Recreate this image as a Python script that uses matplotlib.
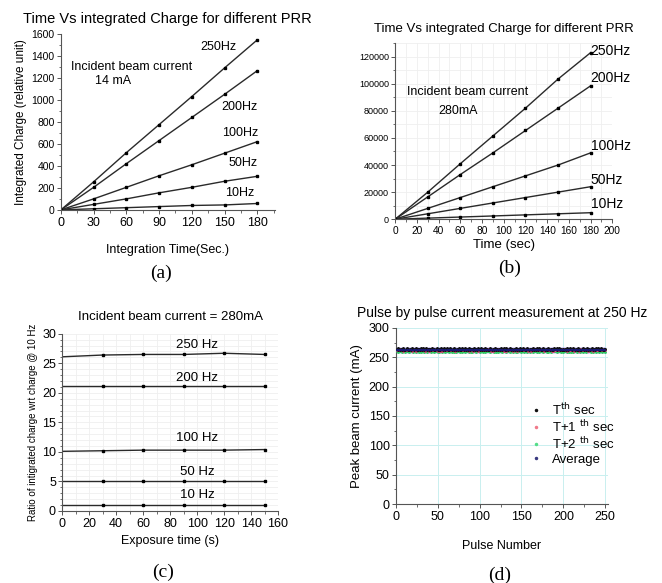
import matplotlib
matplotlib.use("Agg")
import matplotlib.pyplot as plt
from matplotlib.ticker import MultipleLocator, FuncFormatter

plt.rcParams['font.family'] = ['Liberation Sans', 'DejaVu Sans']

# ---------------- data ----------------
# (a) incident beam current 14 mA
t_a = [0, 30, 60, 90, 120, 150, 180]
a_250 = [0, 255, 520, 775, 1030, 1290, 1545]
a_200 = [0, 205, 420, 630, 840, 1050, 1265]
a_100 = [0, 100, 205, 310, 410, 515, 620]
a_50 = [0, 50, 100, 155, 205, 260, 305]
a_10 = [0, 10, 20, 30, 40, 45, 58]

# (b) incident beam current 280 mA
t_b = [0, 30, 60, 90, 120, 150, 180]
b_250 = [0, 20000, 41000, 61500, 82000, 103500, 123000]
b_200 = [0, 16500, 33000, 49000, 65500, 82000, 98500]
b_100 = [0, 8000, 16000, 24000, 32000, 40000, 49000]
b_50 = [0, 4000, 8000, 12000, 16000, 20000, 24000]
b_10 = [0, 800, 1600, 2400, 3200, 4000, 4800]

# (c) ratio wrt 10 Hz
t_c = [0, 30, 60, 90, 120, 150]
c_250 = [26.1, 26.4, 26.5, 26.5, 26.7, 26.5]
c_200 = [21.2, 21.2, 21.2, 21.2, 21.2, 21.2]
c_100 = [10.1, 10.2, 10.3, 10.3, 10.3, 10.4]
c_50 = [5.0, 5.0, 5.0, 5.0, 5.0, 5.0]
c_10 = [1.0, 1.0, 1.0, 1.0, 1.0, 1.0]

# (d) pulse by pulse peak current, offsets from 258 mA (one digit per pulse)
base_d = 258
d_T = ("6576565765" "5675656576" "6567565657" "5765675656" "6576565675"
       "5657656756" "7565765657" "6565756576" "5675657656" "6576565765"
       "6756576565" "5676565756" "6565765675" "7565676565" "6576565756"
       "5765657656" "6567565765" "7656576565" "5765656576" "6576756565"
       "5657656765" "6765657565" "5676565756" "6567656576" "7565765656")
d_T1 = ("5454645354" "4546454536" "5453546454" "4645354536" "5464545453"
        "4536354645" "5454645454" "3545464545" "4645453546" "5354645354"
        "4546454546" "5453536454" "4645454536" "5364545453" "4546354645"
        "5454645354" "3545464545" "4645453546" "5454635354" "4546454546"
        "5453546454" "4635454536" "5464545453" "4546354645" "5454645454")
d_T2 = ("2312321232" "1323212321" "2321323121" "3212321232" "2132312321"
        "1232132312" "2321231321" "3123212312" "2312321321" "1232312321"
        "2321213232" "3212321213" "2132321232" "1323212321" "2312132312"
        "3212321231" "2321232132" "1232312321" "2132123232" "3212321312"
        "2321231213" "1323212321" "2312321232" "3212132312" "2132312321")
d_avg = ("4544545454" "5445454544" "4545445454" "5454544545" "4454545445"
         "5445454454" "4545454544" "5454454545" "4544545454" "5445454545"
         "4545445454" "5454544545" "4454545445" "5445454454" "4545454544"
         "5454454545" "4544545454" "5445454545" "4545445454" "5454544545"
         "4454545445" "5445454454" "4545454544" "5454454545" "4544545454")
avg_err = 5.0

pulses = list(range(1, len(d_T) + 1))
v_T = [base_d + int(c) for c in d_T]
v_T1 = [base_d + int(c) for c in d_T1]
v_T2 = [base_d + int(c) for c in d_T2]
v_avg = [base_d + int(c) for c in d_avg]

# ---------------- figure ----------------
fig = plt.figure(figsize=(6.62, 5.83), dpi=100)

line_kw = dict(color='#2a2a2a', lw=1.0, marker='s', ms=2.1, mfc='black', mec='black')


def style_axes(ax, xlsize, ylsize):
    ax.spines['top'].set_visible(False)
    ax.spines['right'].set_visible(False)
    ax.spines['left'].set_color('#555555')
    ax.spines['bottom'].set_color('#555555')
    ax.tick_params(which='major', direction='out', length=3, width=0.7, color='#555555')
    ax.tick_params(which='minor', direction='out', length=1.8, width=0.6, color='#555555')
    ax.tick_params(axis='x', labelsize=xlsize, pad=2)
    ax.tick_params(axis='y', labelsize=ylsize, pad=1.5)


# ---- (a)
ax = fig.add_axes([0.092, 0.640, 0.323, 0.302])
for y in [a_250, a_200, a_100, a_50, a_10]:
    ax.plot(t_a, y, **line_kw)
ax.set_xlim(0, 196)
ax.set_ylim(0, 1600)
ax.xaxis.set_minor_locator(MultipleLocator(15))
ax.yaxis.set_major_locator(MultipleLocator(200))
ax.yaxis.set_minor_locator(MultipleLocator(100))
ax.set_xticks(t_a)
style_axes(ax, 9, 7.5)
ax.set_title('Time Vs integrated Charge for different PRR', fontsize=10.5, pad=8)
ax.set_ylabel('Integrated Charge (relative unit)', fontsize=8.5, labelpad=3)
ax.set_xlabel('Integration Time(Sec.)', fontsize=9, labelpad=11)
for txt, x, y in [('250Hz', 144, 1480), ('200Hz', 164, 935), ('100Hz', 164, 700),
                  ('50Hz', 167, 427), ('10Hz', 164, 155)]:
    ax.text(x, y, txt, fontsize=9, ha='center', va='center')
ax.text(65, 1300, 'Incident beam current', fontsize=9, ha='center', va='center')
ax.text(48, 1173, '14 mA', fontsize=9, ha='center', va='center')

# ---- (b)
ax = fig.add_axes([0.597, 0.624, 0.328, 0.302])
ax.grid(True, which='both', color='#efefef', lw=0.6)
ax.set_axisbelow(True)
for y in [b_250, b_200, b_100, b_50, b_10]:
    ax.plot(t_b, y, **line_kw)
ax.set_xlim(0, 200)
ax.set_ylim(0, 130000)
ax.xaxis.set_major_locator(MultipleLocator(20))
ax.xaxis.set_minor_locator(MultipleLocator(10))
ax.yaxis.set_major_locator(MultipleLocator(20000))
ax.yaxis.set_minor_locator(MultipleLocator(10000))
ax.yaxis.set_major_formatter(FuncFormatter(lambda v, p: f'{int(v)}'))
style_axes(ax, 7.3, 6.5)
ax.set_title('Time Vs integrated Charge for different PRR', fontsize=9.5, pad=8)
ax.set_xlabel('Time (sec)', fontsize=9.5, labelpad=2)
for txt, y in [('250Hz', 124400), ('200Hz', 104500), ('100Hz', 53700),
               ('50Hz', 28700), ('10Hz', 11000)]:
    ax.text(180, y, txt, fontsize=10, ha='left', va='center', clip_on=False)
ax.text(67, 94200, 'Incident beam current', fontsize=9, ha='center', va='center')
ax.text(58, 80000, '280mA', fontsize=9, ha='center', va='center')

# ---- (c)
ax = fig.add_axes([0.094, 0.1235, 0.326, 0.304])
ax.grid(True, which='both', color='#efefef', lw=0.6)
ax.set_axisbelow(True)
for y in [c_250, c_200, c_100, c_50, c_10]:
    ax.plot(t_c, y, color='#2a2a2a', lw=1.0)
    ax.plot(t_c[1:], y[1:], ls='none', marker='s', ms=2.1, color='black')
ax.set_xlim(0, 160)
ax.set_ylim(0, 30)
ax.xaxis.set_major_locator(MultipleLocator(20))
ax.xaxis.set_minor_locator(MultipleLocator(10))
ax.yaxis.set_major_locator(MultipleLocator(5))
ax.yaxis.set_minor_locator(MultipleLocator(1))
style_axes(ax, 9, 9)
ax.set_title('Incident beam current = 280mA', fontsize=9.5, pad=10)
ax.set_ylabel('Ratio of intigrated charge wrt charge @ 10 Hz', fontsize=7, labelpad=3)
ax.set_xlabel('Exposure time (s)', fontsize=9, labelpad=4)
for txt, y in [('250 Hz', 28.1), ('200 Hz', 22.5), ('100 Hz', 12.4),
               ('50 Hz', 6.6), ('10 Hz', 2.7)]:
    ax.text(100, y, txt, fontsize=9.5, ha='center', va='center')

# ---- (d)
ax = fig.add_axes([0.598, 0.1355, 0.320, 0.302])
ax.grid(True, which='major', color='#c9efef', lw=0.7)
ax.set_axisbelow(True)
ax.errorbar(pulses, v_avg, yerr=avg_err, fmt='none', ecolor='#b0a8f0', elinewidth=0.9,
            alpha=0.75, zorder=2)
ax.plot(pulses, v_T2, ls='none', marker='.', ms=2.2, color='#33cc66', zorder=3)
ax.plot(pulses, v_T1, ls='none', marker='.', ms=2.2, color='#e0407a', zorder=3)
ax.plot(pulses, v_T, ls='none', marker='.', ms=2.2, color='#111111', zorder=4)
ax.plot(pulses, v_avg, color='#1a1a7a', lw=1.2, zorder=5)
# legend handles drawn with the library's legend
h1, = ax.plot([], [], ls='none', marker='.', ms=3, color='#111111')
h2, = ax.plot([], [], ls='none', marker='.', ms=3, color='#f07a8a')
h3, = ax.plot([], [], ls='none', marker='.', ms=3, color='#55dd88')
h4, = ax.plot([], [], ls='none', marker='.', ms=3, color='#3a3a80')
ax.legend([h1, h2, h3, h4],
          [r'T$^{\rm th}$ sec', r'T+1 $^{\rm th}$ sec', r'T+2 $^{\rm th}$ sec', 'Average'],
          loc='center left', bbox_to_anchor=(0.57, 0.40), frameon=False,
          fontsize=9.5, handlelength=1.2, handletextpad=0.6, labelspacing=0.1)
ax.set_xlim(0, 253)
ax.set_ylim(0, 300)
ax.xaxis.set_major_locator(MultipleLocator(50))
ax.xaxis.set_minor_locator(MultipleLocator(25))
ax.yaxis.set_major_locator(MultipleLocator(50))
ax.yaxis.set_minor_locator(MultipleLocator(25))
style_axes(ax, 9, 9)
ax.set_title('Pulse by pulse current measurement at 250 Hz', fontsize=10, pad=8)
ax.set_ylabel('Peak beam current (mA)', fontsize=9.5, labelpad=4)
ax.set_xlabel('Pulse Number', fontsize=9, labelpad=12)

# panel labels
for lab, x, y in [('(a)', 161, 273), ('(b)', 510, 268), ('(c)', 163, 572), ('(d)', 500, 575)]:
    fig.text(x / 662, 1 - y / 583, lab, fontsize=14, family=['Liberation Serif', 'DejaVu Serif'],
             ha='center', va='center')

fig.savefig('out.png', dpi=100)
